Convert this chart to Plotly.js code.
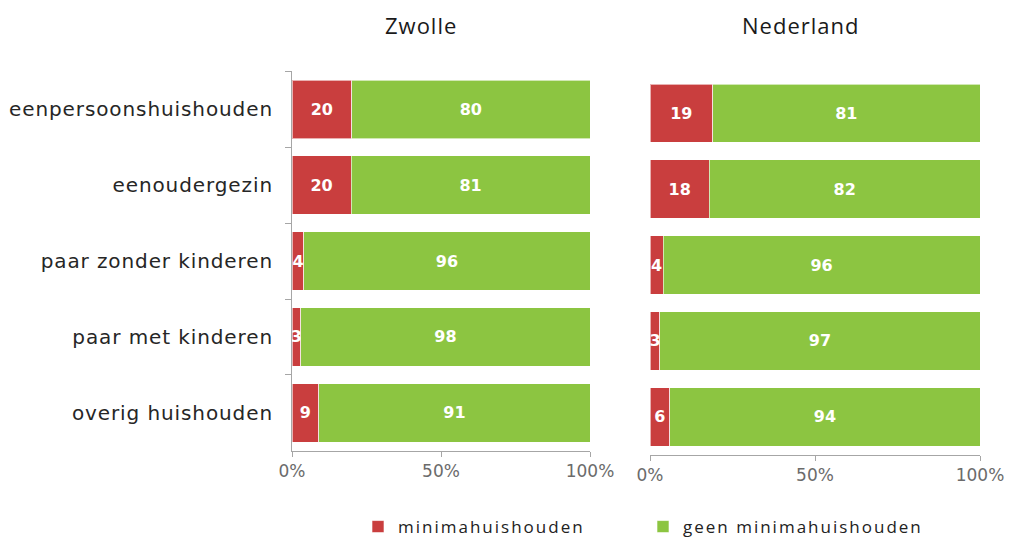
<!DOCTYPE html>
<html>
<head>
<meta charset="utf-8">
<script src="https://cdn.plot.ly/plotly-3.0.1.min.js"></script>
<style>
html,body{margin:0;padding:0;background:#fff;}
#chart{width:1011px;height:545px;}
.yaxislayer-above .ytick text{letter-spacing:0.9px;}
.legendtext{letter-spacing:2px;}
.annotation-text{letter-spacing:1px;}
</style>
</head>
<body>
<div id="chart"></div>
<script>
const categories = ["eenpersoonshuishouden","eenoudergezin","paar zonder kinderen","paar met kinderen","overig huishouden"];
const zwolleMinima = [20, 20, 4, 3, 9];
const zwolleGeen = [80, 81, 96, 98, 91];
const nlMinima = [19, 18, 4, 3, 6];
const nlGeen = [81, 82, 96, 97, 94];
const panelTitles = ["Zwolle", "Nederland"];
const seriesNames = ["minimahuishouden", "geen minimahuishouden"];
const xTickVals = [0, 50, 100];
const xTickText = ["0%", "50%", "100%"];

const RED = "#c93e3e";
const GREEN = "#8cc541";
const barText = {family: "DejaVu Sans", size: 16, color: "#ffffff", weight: "bold"};

function barTrace(vals, name, color, xa, ya, show) {
  return {
    type: "bar", orientation: "h",
    y: categories, x: vals, name: name,
    text: vals.map(String), textposition: "inside", insidetextanchor: "middle",
    textfont: barText,
    marker: {color: color, line: {color: "rgba(255,255,255,0.6)", width: 1}},
    xaxis: xa, yaxis: ya, showlegend: show, legendgroup: name,
    hoverinfo: "none", cliponaxis: false
  };
}

const data = [
  barTrace(zwolleMinima, seriesNames[0], RED, "x", "y", true),
  barTrace(zwolleGeen, seriesNames[1], GREEN, "x", "y", true),
  barTrace(nlMinima, seriesNames[0], RED, "x2", "y2", false),
  barTrace(nlGeen, seriesNames[1], GREEN, "x2", "y2", false)
];

const W = 1011, H = 545;
const xAxisCommon = {
  range: [0, 100], tickvals: xTickVals, ticktext: xTickText,
  showgrid: false, zeroline: false, showline: true, linecolor: "#a6a6a6", linewidth: 1,
  ticks: "outside", ticklen: 5, tickcolor: "#a6a6a6",
  tickfont: {family: "DejaVu Sans", size: 17, color: "#6b6b6b"}, fixedrange: true
};

const layout = {
  width: W, height: H,
  margin: {l: 0, r: 0, t: 0, b: 0},
  paper_bgcolor: "#ffffff", plot_bgcolor: "#ffffff",
  barmode: "stack", barnorm: "percent", bargap: 0.23,
  uniformtext: {minsize: 16, mode: "show"},
  showlegend: true,
  legend: {
    orientation: "h", x: 358 / W, xanchor: "left", y: 1 - 532 / H, yanchor: "middle",
    font: {family: "Open Sans", size: 17, color: "#222222"},
    entrywidth: 240, traceorder: "normal", itemwidth: 30
  },
  xaxis: Object.assign({}, xAxisCommon, {domain: [292 / W, 590 / W], anchor: "y"}),
  xaxis2: Object.assign({}, xAxisCommon, {domain: [650 / W, 980 / W], anchor: "y2"}),
  yaxis: {
    domain: [1 - 455 / H, 1 - 72 / H], autorange: "reversed", type: "category",
    showline: true, linecolor: "#a6a6a6", linewidth: 1,
    ticks: "outside", ticklen: 6, tickcolor: "#a6a6a6", tickson: "boundaries",
    ticklabelstandoff: 14,
    tickfont: {family: "DejaVu Sans", size: 20, color: "#262626"},
    showgrid: false, zeroline: false, fixedrange: true, anchor: "x"
  },
  yaxis2: {
    domain: [1 - 459 / H, 1 - 76 / H], autorange: "reversed", type: "category",
    showline: false, showticklabels: false, ticks: "",
    showgrid: false, zeroline: false, fixedrange: true, anchor: "x2"
  },
  annotations: [
    {text: panelTitles[0], xref: "paper", yref: "paper", x: 421 / W, y: 1 - 25 / H, xanchor: "center", yanchor: "middle", showarrow: false,
     font: {family: "Open Sans", size: 22, color: "#1a1a1a"}},
    {text: panelTitles[1], xref: "paper", yref: "paper", x: 800 / W, y: 1 - 25 / H, xanchor: "center", yanchor: "middle", showarrow: false,
     font: {family: "Open Sans", size: 22, color: "#1a1a1a"}}
  ]
};

Plotly.newPlot("chart", data, layout, {displayModeBar: false, staticPlot: true});
</script>
</body>
</html>
